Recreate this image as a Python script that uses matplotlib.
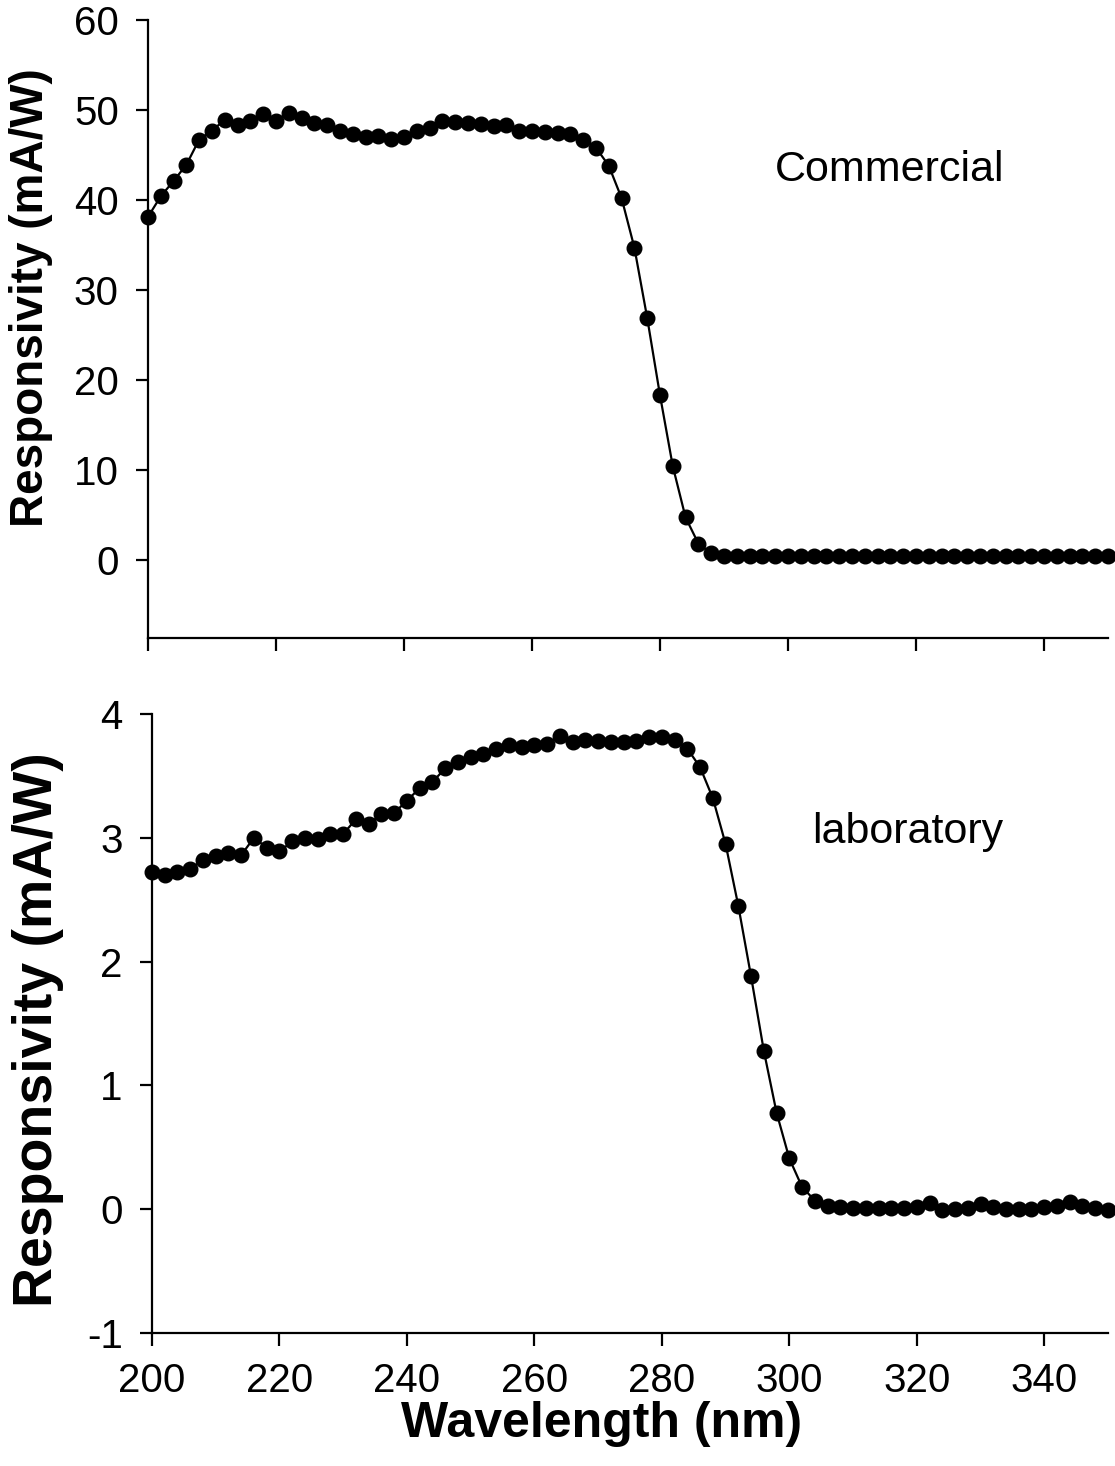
import numpy as np
import matplotlib
matplotlib.use("Agg")
import matplotlib.pyplot as plt

plt.rcParams["font.family"] = ["Liberation Sans", "DejaVu Sans"]
plt.rcParams["axes.unicode_minus"] = False

# wavelength grid (nm), 2 nm steps
wavelength = np.arange(200, 351, 2)

# commercial photodiode responsivity (mA/W)
resp_commercial = [
    38.1, 40.4, 42.1, 43.9, 46.7, 47.7, 48.9, 48.3, 48.8, 49.6,
    48.8, 49.7, 49.1, 48.5, 48.3, 47.6, 47.3, 47.0, 47.1, 46.8,
    47.0, 47.6, 48.0, 48.8, 48.7, 48.5, 48.4, 48.2, 48.3, 47.6,
    47.7, 47.5, 47.4, 47.3, 46.7, 45.8, 43.8, 40.2, 34.7, 26.9,
    18.3, 10.4, 4.7, 1.8, 0.7, 0.45, 0.4, 0.4, 0.4, 0.4,
    0.4, 0.4, 0.4, 0.4, 0.4, 0.4, 0.4, 0.4, 0.4, 0.4,
    0.4, 0.4, 0.4, 0.4, 0.4, 0.4, 0.4, 0.4, 0.4, 0.4,
    0.4, 0.4, 0.4, 0.4, 0.4, 0.4,
]

# laboratory device responsivity (mA/W)
resp_laboratory = [
    2.72, 2.70, 2.72, 2.75, 2.82, 2.85, 2.88, 2.86, 3.00, 2.92,
    2.89, 2.97, 3.00, 2.99, 3.03, 3.03, 3.15, 3.11, 3.19, 3.20,
    3.30, 3.40, 3.45, 3.56, 3.61, 3.65, 3.68, 3.72, 3.75, 3.73,
    3.75, 3.76, 3.82, 3.77, 3.79, 3.78, 3.77, 3.77, 3.78, 3.81,
    3.81, 3.79, 3.72, 3.57, 3.32, 2.95, 2.45, 1.88, 1.28, 0.78,
    0.41, 0.18, 0.07, 0.03, 0.02, 0.01, 0.01, 0.01, 0.01, 0.01,
    0.02, 0.05, -0.01, 0.0, 0.01, 0.04, 0.02, 0.0, 0.0, 0.0,
    0.02, 0.03, 0.06, 0.03, 0.01, -0.01,
]

xticks = [200, 220, 240, 260, 280, 300, 320, 340]

fig = plt.figure(figsize=(11.15, 14.66), dpi=100)
ax1 = fig.add_axes([0.1327, 0.5648, 0.8610, 0.4216])
ax2 = fig.add_axes([0.1363, 0.0907, 0.8574, 0.4223])

for ax, y in [(ax1, resp_commercial), (ax2, resp_laboratory)]:
    ax.plot(wavelength, y, "-o", color="black", lw=1.6, ms=10.5, clip_on=False)
    ax.set_xlim(200, 350)
    ax.set_xticks(xticks)
    for s in ["top", "right"]:
        ax.spines[s].set_visible(False)
    for s in ["left", "bottom"]:
        ax.spines[s].set_linewidth(1.6)
    ax.tick_params(direction="out", length=9, width=1.6, labelsize=29)
    ax.tick_params(axis="y", pad=12)
    ax.tick_params(axis="x", pad=12)

ax1.set_ylim(-8.7, 60)
ax1.set_yticks([0, 10, 20, 30, 40, 50, 60])
ax1.set_xticklabels([])
ax1.set_ylabel("Responsivity (mA/W)", fontsize=33, fontweight="bold")
ax1.yaxis.set_label_coords(-0.099, 0.55)
ax1.text(0.773, 0.757, "Commercial", transform=ax1.transAxes, fontsize=31,
         ha="center", va="center")

ax2.set_ylim(-1, 4)
ax2.set_yticks([-1, 0, 1, 2, 3, 4])
ax2.set_ylabel("Responsivity (mA/W)", fontsize=40, fontweight="bold")
ax2.yaxis.set_label_coords(-0.092, 0.49)
ax2.set_xlabel("Wavelength (nm)", fontsize=36, fontweight="bold")
ax2.xaxis.set_label_coords(0.47, -0.109)
ax2.text(0.791, 0.809, "laboratory", transform=ax2.transAxes, fontsize=31,
         ha="center", va="center")

fig.savefig("out.png", dpi=100)
